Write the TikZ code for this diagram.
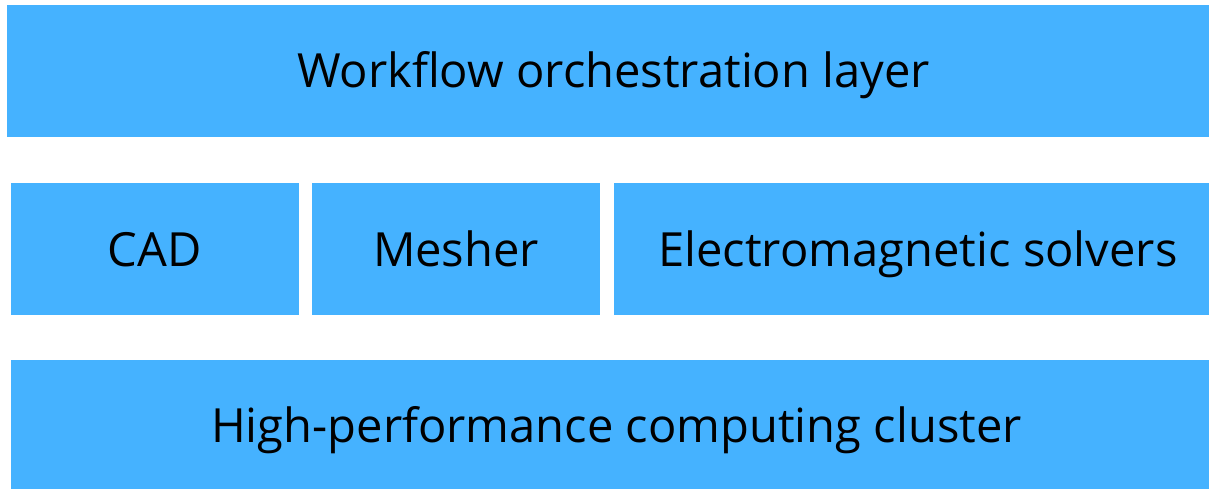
\documentclass[tikz,border=0pt]{standalone}
\usepackage{fontspec}
\setmainfont{Open Sans}
\definecolor{layerblue}{RGB}{69,178,255}
\begin{document}
\begin{tikzpicture}[x=1pt,y=-1pt,
  layer/.style={fill=layerblue,draw=none},
  lbl/.style={inner sep=0pt,anchor=base,font=\fontsize{47.1}{56}\selectfont,text=black}]
\useasboundingbox (0,0) rectangle (1209,489);
\fill[white] (0,0) rectangle (1209,489);
\path[layer] (7,5) rectangle (1209,137);
\path[layer] (11,183) rectangle (299,315);
\path[layer] (312,183) rectangle (600,315);
\path[layer] (614,183) rectangle (1209,315);
\path[layer] (11,360) rectangle (1209,489);
\node[lbl] (wf) at (613.5,88) {Workflow orchestration layer};
\node[lbl] (cad) at (154.5,266) {CAD};
\node[lbl] (mesh) at (456,266) {Mesher};
\node[lbl] (em) at (918,266) {Electromagnetic solvers};
\node[lbl] (hpc) at (616.5,442) {High-performance computing cluster};
\end{tikzpicture}
\end{document}
